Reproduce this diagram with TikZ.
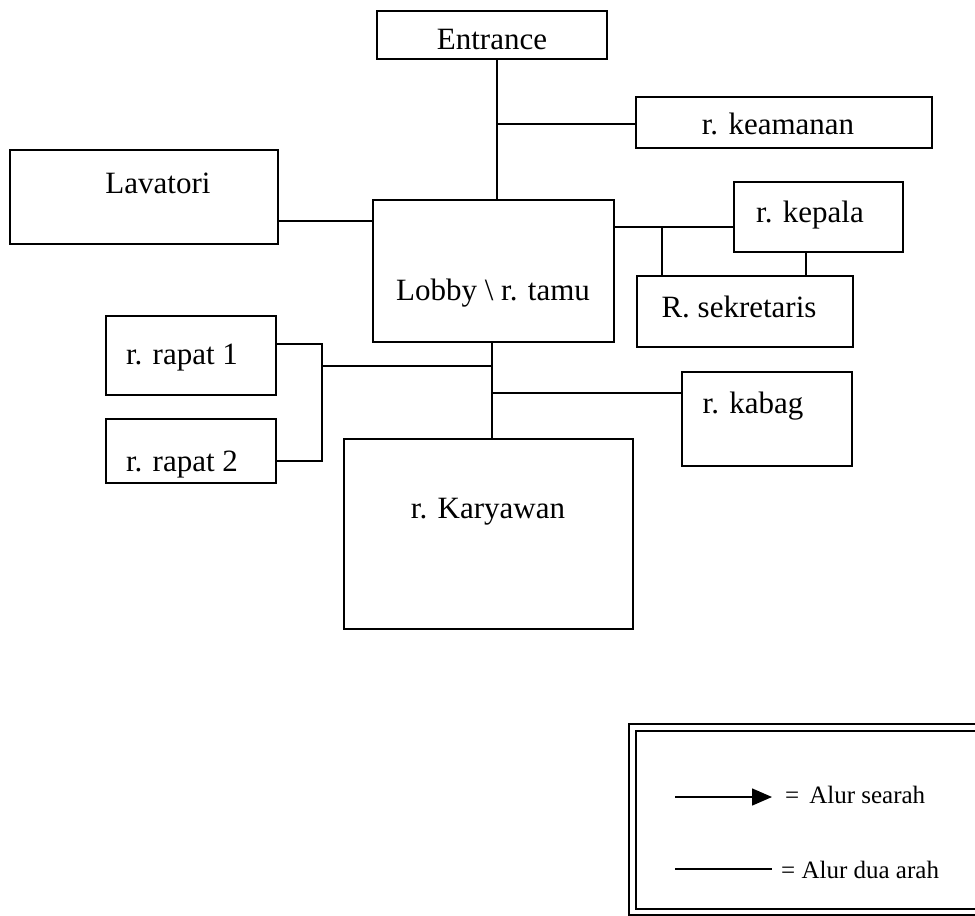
\documentclass[tikz,border=0pt]{standalone}
\usepackage{fontspec}
\setmainfont{Liberation Serif}
\usetikzlibrary{arrows.meta}
\begin{document}
\begin{tikzpicture}[x=1pt,y=-1pt,
  room/.style={draw, line width=1.6pt, inner sep=0pt},
  lbl/.style={font=\fontsize{31}{36}\selectfont, inner sep=0pt, anchor=base},
  wire/.style={line width=1.5pt},
  key/.style={font=\fontsize{25}{30}\selectfont, inner sep=0pt, anchor=base west}]
\useasboundingbox (0,0) rectangle (975,916);

% rooms (centre, size)
\node[room, minimum width=230, minimum height=48] (ent)   at (492,35)    {};
\node[room, minimum width=296, minimum height=51] (kea)   at (784,122.5) {};
\node[room, minimum width=268, minimum height=94] (lav)   at (144,197)   {};
\node[room, minimum width=241, minimum height=142] (lobby) at (493.5,271) {};
\node[room, minimum width=169, minimum height=70] (kep)   at (818.5,217) {};
\node[room, minimum width=216, minimum height=71] (sek)   at (745,311.5) {};
\node[room, minimum width=170, minimum height=79] (rap1)  at (191,355.5) {};
\node[room, minimum width=170, minimum height=64] (rap2)  at (191,451)   {};
\node[room, minimum width=170, minimum height=94] (kab)   at (767,419)   {};
\node[room, minimum width=289, minimum height=190] (kar)  at (488.5,534) {};

% room names
\node[lbl] at (492,49)  {Entrance};
\node[lbl] at (778,134) {r. keamanan};
\node[lbl] at (158,193) {Lavatori};
\node[lbl] at (493,300) {Lobby \textbackslash{} r. tamu};
\node[lbl] at (810,222) {r. kepala};
\node[lbl] at (739,317) {R. sekretaris};
\node[lbl] at (182,364) {r. rapat 1};
\node[lbl] at (182,471) {r. rapat 2};
\node[lbl] at (753,413) {r. kabag};
\node[lbl] at (488,518) {r. Karyawan};

% junction points of the corridors
\coordinate (xa) at (497,0);
\coordinate (ya) at (0,124);
\coordinate (yl) at (0,221);
\coordinate (yr) at (0,227);
\coordinate (js) at (662,227);
\coordinate (xk) at (806,0);
\coordinate (xb) at (492,0);
\coordinate (jm) at (492,366);
\coordinate (jb) at (322,366);
\coordinate (y1) at (0,344);
\coordinate (y2) at (0,461);
\coordinate (jk) at (492,393);

% corridors
\draw[wire] (ent.south -| xa) -- (lobby.north -| xa);
\draw[wire] (xa |- ya) -- (kea.west |- ya);
\draw[wire] (lav.east |- yl) -- (lobby.west |- yl);
\draw[wire] (lobby.east |- yr) -- (kep.west |- yr);
\draw[wire] (js) -- (js |- sek.north);
\draw[wire] (kep.south -| xk) -- (sek.north -| xk);
\draw[wire] (lobby.south -| xb) -- (kar.north -| xb);
\draw[wire] (jm) -- (jb);
\draw[wire] (rap1.east |- y1) -- (jb |- y1) -- (jb |- y2) -- (rap2.east |- y2);
\draw[wire] (jk) -- (kab.west |- jk);

% legend frame (double rule, open to the right)
\draw[line width=2.4pt] (990,724) -- (629,724) -- (629,915) -- (990,915);
\draw[line width=1.6pt] (990,731) -- (636,731) -- (636,909) -- (990,909);

\coordinate (k1a) at (675,797);
\coordinate (k1b) at (772,797);
\coordinate (k2a) at (675,869);
\coordinate (k2b) at (772,869);
\draw[line width=1.5pt, -{Triangle[length=20pt,width=17pt]}] (k1a) -- (k1b);
\draw[line width=1.5pt] (k2a) -- (k2b);
\node[key] (t1) at (785,803) {=\hspace{10pt}Alur searah};
\node[key] (t2) at (781,878) {= Alur dua arah};
\end{tikzpicture}
\end{document}
